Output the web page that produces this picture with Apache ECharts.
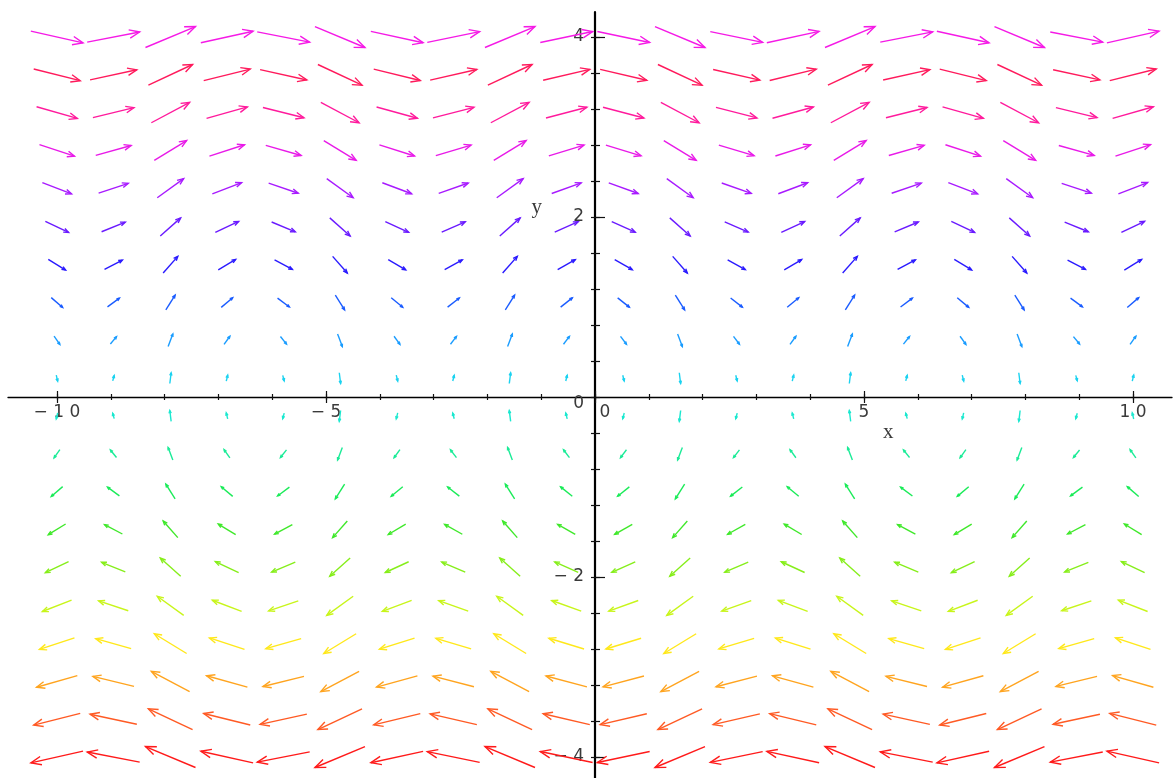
<!doctype html>
<html>
<head>
<meta charset="utf-8">
<title>fieldplot</title>
<script src="https://cdn.jsdelivr.net/npm/echarts@6/dist/echarts.min.js"></script>
<style>
    html, body { margin: 0; padding: 0; background: #fff; }
    #chart { width: 1173px; height: 778px; }
</style>
</head>
<body>
<div id="chart"></div>
<script>
// arrow centres
var colX = [-10, -8.95, -7.89, -6.84, -5.79, -4.74, -3.68, -2.63, -1.58, -0.53,
            0.53, 1.58, 2.63, 3.68, 4.74, 5.79, 6.84, 7.89, 8.95, 10];
var rowY = [-4, -3.58, -3.16, -2.74, -2.32, -1.89, -1.47, -1.05, -0.63, -0.21,
            0.21, 0.63, 1.05, 1.47, 1.89, 2.32, 2.74, 3.16, 3.58, 4];
// horizontal component, one per row
var rowU = [-4, -3.58, -3.16, -2.74, -2.32, -1.89, -1.47, -1.05, -0.63, -0.21,
            0.21, 0.63, 1.05, 1.47, 1.89, 2.32, 2.74, 3.16, 3.58, 4];
// vertical component, one per column
var colV = [-0.54, 0.46, 1.00, 0.53, -0.47, -1.00, -0.52, 0.49, 1.00, 0.50,
            -0.50, -1.00, -0.49, 0.52, 1.00, 0.47, -0.53, -1.00, -0.46, 0.54];
// arrow colour, one per row (bottom to top)
var rowColors = ['#ff1a1a', '#ff5a24', '#ffa41f', '#ffe81a', '#c8f51a', '#86ee1a', '#3fe82a',
                 '#1aeb58', '#1aeb97', '#1ae8cf', '#1ad2f0', '#1a9cff', '#1a5cff', '#2a1aff',
                 '#6a1aff', '#a81aff', '#e81ae8', '#ff1a9c', '#ff1a5c', '#f51ae6'];

// ticks and labels
var xTicks = [-10, -9, -8, -7, -6, -5, -4, -3, -2, -1, 0, 1, 2, 3, 4, 5, 6, 7, 8, 9, 10];
var xMajor = [-10, -5, 0, 5, 10];
var xLabels = [-10, -5, 0, 5, 10];
var yTicks = [-4, -3.6, -3.2, -2.8, -2.4, -2, -1.6, -1.2, -0.8, -0.4, 0,
              0.4, 0.8, 1.2, 1.6, 2, 2.4, 2.8, 3.2, 3.6, 4];
var yMajor = [-4, -2, 2, 4];
var yLabels = [-4, -2, 0, 2, 4];
var xName = ['x', 5.45, -0.39];
var yName = ['y', -1.08, 2.11];

var X_MIN = -10.91, X_MAX = 10.725, Y_MIN = -4.233, Y_MAX = 4.278;
var W = 1173, H = 778;
var GRID = { left: 8, right: 1, top: 12, bottom: 0 };
var gw = W - GRID.left - GRID.right, gh = H - GRID.top - GRID.bottom;
// where the zero lines fall inside the grid
var zx = (0 - X_MIN) / (X_MAX - X_MIN) * gw;
var zy = (Y_MAX - 0) / (Y_MAX - Y_MIN) * gh;

var arrows = [];
rowY.forEach(function (y, j) {
    colX.forEach(function (x, i) {
        arrows.push([x, y, rowU[j], colV[i], j]);
    });
});

function fmtNum(v) {
    if (v === 0) return '{z|0}';
    return String(v).replace('-', '\u2212').split('').join(' ');
}

var labelFont = { color: '#3a3a3a', fontSize: 17, fontFamily: 'DejaVu Sans' };

function xAx(pos, ticks, len, withLine) {
    return {
        type: 'value', min: X_MIN, max: X_MAX, position: pos,
        offset: pos === 'bottom' ? -(gh - zy) : -zy,
        splitLine: { show: false },
        axisLine: { show: withLine, onZero: false, lineStyle: { color: '#000', width: 1.3 } },
        axisTick: { show: true, customValues: ticks, length: len, inside: false, lineStyle: { color: '#111', width: 1.2 } },
        axisLabel: withLine ? {
            customValues: xLabels, margin: 7, color: labelFont.color, fontSize: labelFont.fontSize,
            fontFamily: labelFont.fontFamily, formatter: fmtNum,
            rich: { z: { padding: [0, 0, 0, 20], color: labelFont.color, fontSize: 17, fontFamily: labelFont.fontFamily } }
        } : { show: false }
    };
}

function yAx(pos, ticks, len, withLine) {
    return {
        type: 'value', min: Y_MIN, max: Y_MAX, position: pos,
        offset: pos === 'left' ? -zx : -(gw - zx),
        splitLine: { show: false },
        axisLine: { show: withLine, onZero: false, lineStyle: { color: '#000', width: 2.2 } },
        axisTick: { show: true, customValues: ticks, length: len, inside: false, lineStyle: { color: '#111', width: 1.2 } },
        axisLabel: withLine ? {
            customValues: yLabels, margin: 11, color: labelFont.color, fontSize: labelFont.fontSize,
            fontFamily: labelFont.fontFamily, formatter: fmtNum,
            rich: { z: { padding: [14, 0, 0, 0], color: labelFont.color, fontSize: 17, fontFamily: labelFont.fontFamily } }
        } : { show: false }
    };
}

function renderArrow(params, api) {
    var c = api.coord([api.value(0), api.value(1)]);
    var s = api.size([1, 1]);
    var u = api.value(2), v = api.value(3);
    var px = u * s[0], py = -v * s[1];
    var m = Math.sqrt(px * px + py * py);
    if (!m) return;
    var len = Math.sqrt(Math.pow(13.3 * u, 2) + Math.pow(10.5 * v, 2));
    var ux = px / m, uy = py / m;
    var tail = [c[0] - ux * len / 2, c[1] - uy * len / 2];
    var tip = [c[0] + ux * len / 2, c[1] + uy * len / 2];
    var h = Math.max(3, len * 0.21), a = 22 * Math.PI / 180;
    var back = Math.atan2(-uy, -ux);
    var b1 = [tip[0] + h * Math.cos(back + a), tip[1] + h * Math.sin(back + a)];
    var b2 = [tip[0] + h * Math.cos(back - a), tip[1] + h * Math.sin(back - a)];
    var style = { stroke: rowColors[api.value(4)], lineWidth: 1.4, fill: null };
    return {
        type: 'group',
        children: [
            { type: 'polyline', shape: { points: [tail, tip] }, style: style },
            { type: 'polyline', shape: { points: [b1, tip, b2] }, style: style }
        ]
    };
}

var chart = echarts.init(document.getElementById('chart'));
var option = {
    backgroundColor: '#fff',
    animation: false,
    grid: { left: GRID.left, right: GRID.right, top: GRID.top, bottom: GRID.bottom,
            containLabel: false, outerBoundsMode: 'none' },
    xAxis: [
        xAx('bottom', xTicks, 3, true),
        xAx('top', xTicks, 3, false),
        xAx('bottom', xMajor, 6, false),
        xAx('top', xMajor, 6, false)
    ],
    yAxis: [
        yAx('left', yTicks, 4, true),
        yAx('right', yTicks, 5, false),
        yAx('right', yMajor, 10, false)
    ],
    series: [{
        type: 'custom',
        xAxisIndex: 0, yAxisIndex: 0,
        renderItem: renderArrow,
        encode: { x: 0, y: 1 },
        data: arrows,
        silent: true
    }]
};
chart.setOption(option);

// axis titles
var pX = chart.convertToPixel({ xAxisIndex: 0, yAxisIndex: 0 }, [xName[1], xName[2]]);
var pY = chart.convertToPixel({ xAxisIndex: 0, yAxisIndex: 0 }, [yName[1], yName[2]]);
chart.setOption({
    graphic: [
        { type: 'text', x: pX[0], y: pX[1], style: { text: xName[0], fill: '#3a3a3a', font: '21px "Liberation Serif"', align: 'center', verticalAlign: 'middle' } },
        { type: 'text', x: pY[0], y: pY[1], style: { text: yName[0], fill: '#3a3a3a', font: '21px "Liberation Serif"', align: 'center', verticalAlign: 'middle' } }
    ]
});
</script>
</body>
</html>
